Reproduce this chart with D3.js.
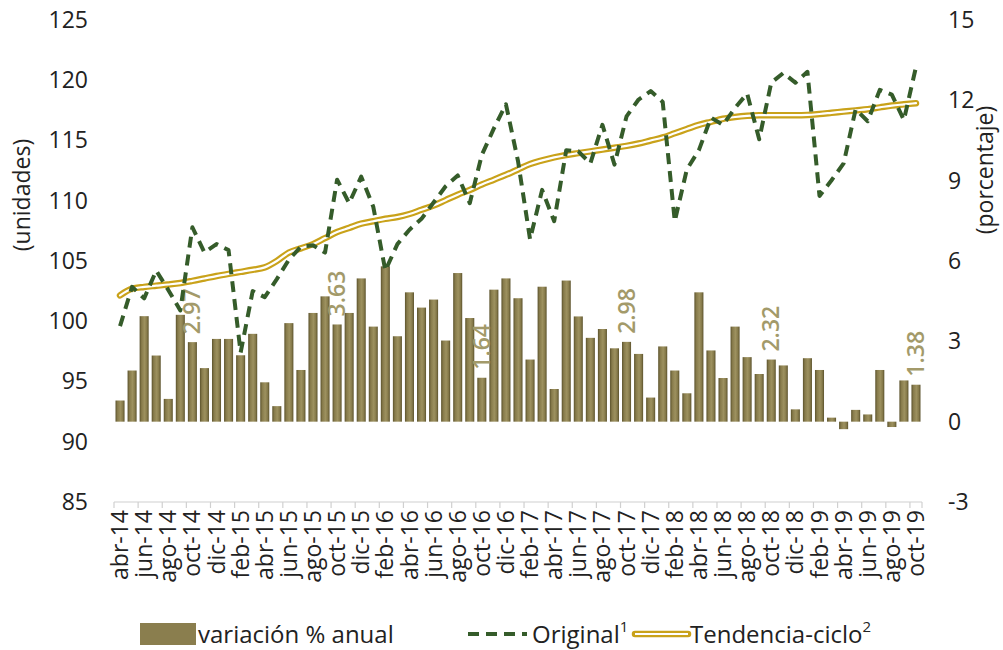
<!DOCTYPE html>
<html>
<head>
<meta charset="utf-8">
<script src="https://cdn.jsdelivr.net/npm/d3@7"></script>
<style>
  body { margin: 0; background: #fff; }
  svg text { font-family: "Open Sans", "Noto Sans", sans-serif; }
</style>
</head>
<body>
<div id="viz"></div>
<script>
var monthNames = ['ene', 'feb', 'mar', 'abr', 'may', 'jun', 'jul', 'ago', 'sep', 'oct', 'nov', 'dic'],

    // abr-14 .. oct-19
    months = (function () {
        var list = [], m = 3, y = 14;
        while (!(y === 19 && m === 10)) {
            list.push(monthNames[m] + '-' + y);
            m += 1;
            if (m === 12) { m = 0; y += 1; }
        }
        return list;
    })(),

    // variación % anual (right axis)
    annualChange = [0.79, 1.91, 3.94, 2.47, 0.85, 3.99, 2.97, 2.0, 3.09, 3.09,
                    2.48, 3.28, 1.47, 0.58, 3.68, 1.93, 4.06, 4.68, 3.63, 4.06,
                    5.35, 3.55, 5.8, 3.19, 4.83, 4.26, 4.56, 3.03, 5.55, 3.87,
                    1.64, 4.93, 5.35, 4.61, 2.32, 5.04, 1.22, 5.27, 3.93, 3.13,
                    3.46, 2.74, 2.98, 2.53, 0.9, 2.81, 1.91, 1.06, 4.83, 2.66,
                    1.63, 3.55, 2.41, 1.78, 2.32, 2.1, 0.46, 2.37, 1.93, 0.15,
                    -0.28, 0.44, 0.27, 1.93, -0.2, 1.54, 1.38],

    // Original (left axis)
    original = [99.6, 102.86, 101.9, 104.2, 102.6, 100.9, 107.8, 105.7, 106.4, 105.9,
                97.4, 102.5, 102.0, 103.5, 105.1, 106.2, 106.3, 105.7, 111.75, 109.8,
                112.0, 109.5, 104.2, 106.4, 107.6, 108.5, 109.85, 111.2, 112.1, 109.8,
                113.8, 116.0, 118.0, 113.3, 106.8, 110.9, 108.3, 114.2, 114.1, 113.1,
                116.3, 113.0, 117.0, 118.4, 119.1, 118.2, 108.3, 112.6, 114.2, 116.9,
                116.3, 117.7, 118.9, 115.1, 119.8, 120.6, 119.8, 120.7, 110.4, 111.7,
                113.1, 117.6, 116.6, 119.2, 118.8, 116.7, 121.1],

    // Tendencia-ciclo (left axis)
    trend = [102.15, 102.7, 102.85, 102.95, 103.05, 103.17, 103.35, 103.55, 103.75, 103.93,
             104.1, 104.27, 104.47, 105.0, 105.7, 106.05, 106.4, 106.9, 107.4, 107.75,
             108.1, 108.3, 108.5, 108.65, 108.9, 109.25, 109.6, 110.05, 110.5, 110.9,
             111.35, 111.75, 112.15, 112.6, 113.05, 113.35, 113.6, 113.8, 113.95, 114.1,
             114.25, 114.4, 114.55, 114.75, 115.0, 115.25, 115.6, 115.95, 116.3, 116.55,
             116.8, 116.95, 117.05, 117.1, 117.1, 117.1, 117.1, 117.12, 117.2, 117.3,
             117.4, 117.5, 117.6, 117.75, 117.9, 118.0, 118.1],

    leftTicks = [85, 90, 95, 100, 105, 110, 115, 120, 125],
    rightTicks = [-3, 0, 3, 6, 9, 12, 15],

    olive = '#8a7e4e',
    green = '#355c2a',
    gold = '#c9a21a',

    svg = d3.select('#viz')
        .append('svg')
            .attr('width', 1003)
            .attr('height', 650),

    x = d3.scaleBand()
        .domain(months)
        .range([114, 922])
        .paddingInner(0.25)
        .paddingOuter(0.125),

    cx = function (d) { return x(d) + x.bandwidth() / 2; },

    yLeft = d3.scaleLinear().domain([85, 125]).range([502, 20]),
    yRight = d3.scaleLinear().domain([-3, 15]).range([502, 20]);

// bar gradient (cylinder look)
var grad = svg.append('defs').append('linearGradient')
    .attr('id', 'barGrad')
    .attr('x1', '0%').attr('x2', '100%').attr('y1', '0%').attr('y2', '0%');
[['0%', '#5b522c'], ['22%', '#877b4b'], ['55%', '#9d915f'], ['80%', '#877b4b'], ['100%', '#5b522c']]
    .forEach(function (s) {
        grad.append('stop').attr('offset', s[0]).attr('stop-color', s[1]);
    });

// left axis labels
var leftAxis = svg.append('g')
    .attr('transform', 'translate(90,0)')
    .call(d3.axisLeft(yLeft).tickValues(leftTicks).tickSize(0).tickPadding(2));
leftAxis.select('.domain').remove();
leftAxis.selectAll('text')
    .style('font-size', '23px')
    .attr('fill', '#222');

// right axis labels (plain hyphen for negatives)
var rightAxis = svg.append('g')
    .attr('transform', 'translate(946,0)')
    .call(d3.axisRight(yRight).tickValues(rightTicks).tickSize(0).tickPadding(2)
        .tickFormat(function (d) { return String(d); }));
rightAxis.select('.domain').remove();
rightAxis.selectAll('text')
    .style('font-size', '23px')
    .attr('fill', '#222');

// axis titles
svg.append('text')
    .attr('transform', 'translate(22,195) rotate(-90)')
    .attr('text-anchor', 'middle')
    .attr('dy', '0.35em')
    .style('font-size', '23px')
    .attr('fill', '#222')
    .text('(unidades)');

svg.append('text')
    .attr('transform', 'translate(985,170) rotate(-90)')
    .attr('text-anchor', 'middle')
    .attr('dy', '0.35em')
    .style('font-size', '23px')
    .attr('fill', '#222')
    .text('(porcentaje)');

// bottom category axis
svg.append('line')
    .attr('x1', x.range()[0]).attr('x2', x.range()[1])
    .attr('y1', 502).attr('y2', 502)
    .attr('stroke', '#d0d0d0')
    .attr('stroke-width', 1.2);

svg.append('g').selectAll('line')
    .data(months.filter(function (d, i) { return i % 2 === 0; }).concat([null]))
    .enter().append('line')
        .attr('x1', function (d) { return d ? x(d) - x.step() * x.paddingInner() / 2 : x.range()[1]; })
        .attr('x2', function (d) { return d ? x(d) - x.step() * x.paddingInner() / 2 : x.range()[1]; })
        .attr('y1', 502).attr('y2', 508)
        .attr('stroke', '#d0d0d0')
        .attr('stroke-width', 1.2);

var xAxis = svg.append('g')
    .attr('transform', 'translate(0,502)')
    .call(d3.axisBottom(x)
        .tickValues(months.filter(function (d, i) { return i % 2 === 0; }))
        .tickSize(0));
xAxis.select('.domain').remove();
xAxis.selectAll('text')
    .style('font-size', '23px')
    .attr('fill', '#222')
    .attr('text-anchor', 'end')
    .attr('transform', 'rotate(-90)')
    .attr('x', -8)
    .attr('y', 0)
    .attr('dy', '0.35em');

// bars
svg.append('g').attr('class', 'bars').selectAll('rect')
    .data(annualChange)
    .enter().append('rect')
        .attr('x', function (d, i) { return x(months[i]); })
        .attr('width', x.bandwidth())
        .attr('y', function (d) { return Math.min(yRight(d), yRight(0)); })
        .attr('height', function (d) { return Math.abs(yRight(d) - yRight(0)); })
        .attr('fill', 'url(#barGrad)');

// data labels on October bars
svg.append('g').selectAll('text')
    .data(annualChange.map(function (d, i) { return {v: d, m: months[i]}; })
        .filter(function (d) { return d.m.indexOf('oct') === 0; }))
    .enter().append('text')
        .attr('transform', function (d) {
            return 'translate(' + cx(d.m) + ',' + (yRight(d.v) - 8) + ') rotate(-90)';
        })
        .attr('dy', '0.35em')
        .attr('text-anchor', 'start')
        .style('font-size', '23px')
        .style('font-weight', 600)
        .attr('fill', '#a39a6a')
        .text(function (d) { return d.v.toFixed(2); });

// trend (double line)
var trendLine = d3.line()
    .x(function (d, i) { return cx(months[i]); })
    .y(function (d) { return yLeft(d); })
    .curve(d3.curveMonotoneX);

svg.append('path')
    .datum(trend)
    .attr('d', trendLine)
    .style('fill', 'none')
    .style('stroke', gold)
    .style('stroke-width', 6.5)
    .style('stroke-linecap', 'round');

svg.append('path')
    .datum(trend)
    .attr('d', trendLine)
    .style('fill', 'none')
    .style('stroke', '#fff')
    .style('stroke-width', 2.2)
    .style('stroke-linecap', 'round');

// original (dashed)
var originalLine = d3.line()
    .x(function (d, i) { return cx(months[i]); })
    .y(function (d) { return yLeft(d); });

svg.append('path')
    .datum(original)
    .attr('d', originalLine)
    .style('fill', 'none')
    .style('stroke', green)
    .style('stroke-width', 4)
    .style('stroke-dasharray', '11,7')
    .style('stroke-linejoin', 'round');

// legend
var legend = svg.append('g').attr('class', 'legend');

legend.append('rect')
    .attr('x', 140).attr('y', 623)
    .attr('width', 56).attr('height', 22)
    .attr('fill', olive);
legend.append('text')
    .attr('x', 198).attr('y', 643)
    .style('font-size', '24px')
    .attr('fill', '#222')
    .text('variación % anual');

legend.append('line')
    .attr('x1', 468).attr('x2', 527)
    .attr('y1', 634).attr('y2', 634)
    .style('stroke', green)
    .style('stroke-width', 4)
    .style('stroke-dasharray', '11,7');
var t1 = legend.append('text')
    .attr('x', 532).attr('y', 643)
    .style('font-size', '24px')
    .attr('fill', '#222');
t1.append('tspan').text('Original');
t1.append('tspan').attr('dy', -11).style('font-size', '15px').text('1');

legend.append('line')
    .attr('x1', 635).attr('x2', 688)
    .attr('y1', 634).attr('y2', 634)
    .style('stroke', gold)
    .style('stroke-width', 6.5)
    .style('stroke-linecap', 'round');
legend.append('line')
    .attr('x1', 635).attr('x2', 688)
    .attr('y1', 634).attr('y2', 634)
    .style('stroke', '#fff')
    .style('stroke-width', 2.2);
var t2 = legend.append('text')
    .attr('x', 690).attr('y', 643)
    .style('font-size', '24px')
    .attr('fill', '#222');
t2.append('tspan').text('Tendencia-ciclo');
t2.append('tspan').attr('dy', -11).style('font-size', '15px').text('2');
</script>
</body>
</html>
